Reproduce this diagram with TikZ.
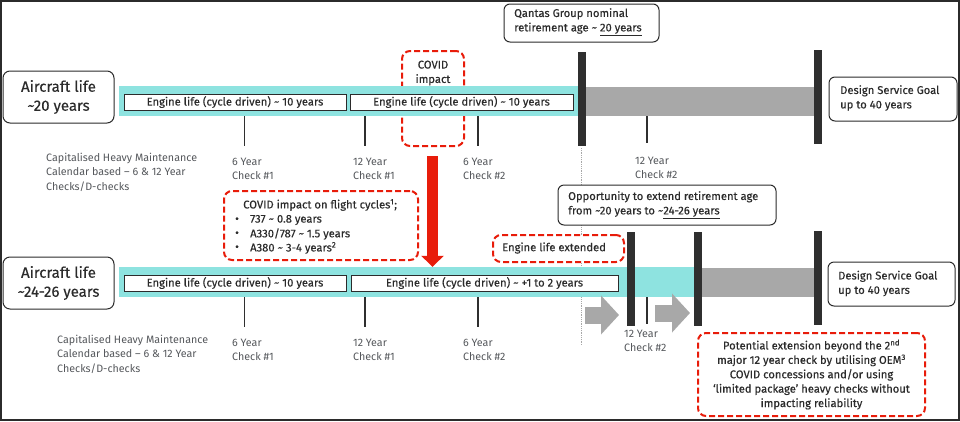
\documentclass[tikz,border=0pt]{standalone}
\usepackage{fontspec}
\setmainfont{Fira Sans}[FakeBold=0.3]
\newfontfamily\softfont{Fira Sans}
\usetikzlibrary{arrows.meta}
\definecolor{darktext}{HTML}{2B2B2B}
\definecolor{softtext}{HTML}{55585C}
\definecolor{tealband}{HTML}{8EE3E0}
\definecolor{greyband}{HTML}{A8A8A8}
\definecolor{darkbar}{HTML}{2F2F2F}
\definecolor{covidred}{HTML}{E81C0A}
\tikzset{
    txt/.style={inner sep=0pt, text=darktext, align=left, anchor=west, font=\fontsize{11.2}{14.4}\selectfont},
    soft/.style={txt, text=softtext, font=\softfont\fontsize{10.7}{14.4}\selectfont},
    bigtxt/.style={draw=darktext, line width=1pt, rounded corners=7pt, fill=white, align=center, text=darktext, inner sep=0pt, font=\fontsize{15}{19}\selectfont},
    callout/.style={draw=darktext, line width=1pt, rounded corners=6pt, fill=white, inner sep=0pt},
    redbox/.style={draw=covidred, line width=2pt, dash pattern=on 6pt off 3pt, rounded corners=8pt, inner sep=0pt},
    band/.style={inner sep=0pt, draw=none},
    enginebox/.style={draw=darktext, line width=.9pt, fill=white, inner sep=0pt, text=darktext, font=\fontsize{11.2}{14.4}\selectfont},
    bar/.style={fill=darkbar, inner sep=0pt, minimum width=8pt},
    tick/.style={draw=darkbar, line width=1.6pt},
    growarrow/.style={-{Triangle[width=38pt, length=18pt]}, draw=greyband, fill=greyband, line width=17pt},
}
\begin{document}
\begin{tikzpicture}[x=1pt, y=-1pt]
    \useasboundingbox (0, 0) rectangle (960, 421);
    \fill[white] (0, 0) rectangle (960, 421);
    \draw[line width=2pt, draw=darktext] (1, 1) rectangle (958.5, 419.5);

    % retirement line
    \coordinate (dota) at (581.5, 148);
    \coordinate (dotb) at (581.5, 345);
    \draw[densely dotted, draw=greyband, line width=.8pt] (dota) -- (dotb);

    % top timeline
    \node[redbox, minimum width=62pt, minimum height=95pt] (covid) at (433, 98.5) {};
    \node[band, fill=tealband, minimum width=465pt, minimum height=30pt] (bandtop) at (351.5, 101) {};
    \node[band, fill=greyband, minimum width=230pt, minimum height=29pt] (greytop) at (700, 101.5) {};
    \node[enginebox, minimum width=222pt, minimum height=16pt] (enga) at (235, 102) {Engine life (cycle driven) \textasciitilde{} 10 years};
    \node[enginebox, minimum width=223pt, minimum height=16pt] (engb) at (461.5, 102) {Engine life (cycle driven) \textasciitilde{} 10 years};
    \node[bigtxt, minimum width=111pt, minimum height=52pt] (lifetop) at (58.5, 97) {Aircraft life\\\textasciitilde20 years};
    \node[inner sep=0pt, text=darktext, align=center, font=\fontsize{11.2}{14.4}\selectfont] (covidtxt) at (433, 73) {COVID\\impact};
    \node[bar, minimum height=94pt] (bara) at (582, 99) {};
    \node[bar, minimum height=94pt] (barb) at (818, 97) {};

    % bottom timeline
    \node[band, fill=tealband, minimum width=575pt, minimum height=30pt] (bandbot) at (406.5, 282) {};
    \node[band, fill=greyband, minimum width=113pt, minimum height=29pt] (greybot) at (758, 282.5) {};
    \node[enginebox, minimum width=222pt, minimum height=16pt] (engc) at (235, 283) {Engine life (cycle driven) \textasciitilde{} 10 years};
    \node[enginebox, minimum width=267pt, minimum height=16pt] (engd) at (484.5, 283) {Engine life (cycle driven) \textasciitilde{} +1 to 2 years};
    \node[bigtxt, minimum width=111pt, minimum height=52pt] (lifebot) at (58.5, 283) {Aircraft life\\\textasciitilde24-26 years};
    \node[bar, minimum height=94pt] (barc) at (631, 279) {};
    \node[bar, minimum height=94pt] (bard) at (697.5, 279) {};
    \node[bar, minimum height=94pt] (bare) at (818, 278) {};

    % grey arrows
    \foreach \i/\xa/\xb/\y in {0/585/619/315, 1/655/690/313} {
        \coordinate (growa\i) at (\xa, \y);
        \coordinate (growb\i) at (\xb, \y);
        \draw[growarrow] (growa\i) -- (growb\i);
    }

    % check ticks
    \foreach \i/\x/\ya/\yb in {0/244.5/116/146, 1/365/116/146, 2/478/116/146, 3/647/116/143, 4/244.5/297/327, 5/365/297/327, 6/478/297/327, 7/647/297/324} {
        \coordinate (ta\i) at (\x, \ya);
        \coordinate (tb\i) at (\x, \yb);
        \draw[tick] (ta\i) -- (tb\i);
    }

    % check labels
    \foreach \i/\x/\y/\yrs/\num in {0/232/169/6/1, 1/353/169/12/1, 2/463/169/6/2, 3/635/168/12/2, 4/232/350/6/1, 5/353/350/12/1, 6/463/350/6/2, 7/624/341/12/2} {
        \node[soft] (chk\i) at (\x, \y) {\yrs{} Year\\Check \#\num};
    }

    \node[soft] (captop) at (46, 172) {Capitalised Heavy Maintenance\\Calendar based \textendash{}  6 \& 12 Year\\Checks/D-checks};
    \node[soft] (capbot) at (57, 354) {Capitalised Heavy Maintenance\\Calendar based \textendash{}  6 \& 12 Year\\Checks/D-checks};

    % callouts
    \node[callout, minimum width=155pt, minimum height=38pt] (qantas) at (581.5, 23) {};
    \node[txt] (qantastxt) at (514, 22) {Qantas Group nominal\\retirement age \textasciitilde{} \underline{20 years}};
    \node[callout, minimum width=128pt, minimum height=44pt] (dsgtop) at (893, 99) {};
    \node[txt] (dsgtoptxt) at (840, 98) {Design Service Goal\\up to 40 years};
    \node[callout, minimum width=218pt, minimum height=40pt] (oppo) at (667, 205) {};
    \node[txt] (oppotxt) at (568, 205) {Opportunity to extend retirement age\\from \textasciitilde20 years to \textasciitilde\underline{24-26 years}};
    \node[callout, minimum width=127pt, minimum height=44pt] (dsgbot) at (891.5, 284) {};
    \node[txt] (dsgbottxt) at (838, 283.5) {Design Service Goal\\up to 40 years};

    % red dashed boxes
    \node[redbox, fill=white, minimum width=194pt, minimum height=69pt] (impact) at (321, 225.5) {};
    \node[txt] (impacttxt) at (243, 205) {COVID impact on flight cycles\textsuperscript{1};};
    \foreach \i/\y/\lab in {0/220/{737 \textasciitilde{} 0.8 years}, 1/234/{A330/787 \textasciitilde{} 1.5 years}, 2/248/{A380 \textasciitilde{} 3-4 years\textsuperscript{2}}} {
        \node[txt] (dot\i) at (235, \y) {\textbullet};
        \node[txt] (type\i) at (250, \y) {\lab};
    }
    \node[redbox, fill=white, minimum width=131pt, minimum height=27pt] (extended) at (558.5, 248.5) {};
    \node[txt] (extendedtxt) at (502, 248) {Engine life extended};
    \node[redbox, minimum width=227pt, minimum height=83pt, align=center, text=darktext, font=\fontsize{11.2}{14.4}\selectfont] (potential) at (811.5, 374.5) {Potential extension beyond the 2\textsuperscript{nd}\\major 12 year check by utilising OEM\textsuperscript{3}\\COVID concessions and/or using\\‘limited package’ heavy checks without\\impacting reliability};

    % covid arrow
    \coordinate (reda) at (432.5, 156);
    \draw[-{Triangle[width=22pt, length=11pt]}, draw=covidred, fill=covidred, line width=11pt] (reda) -- (bandbot.north -| reda);
\end{tikzpicture}
\end{document}
